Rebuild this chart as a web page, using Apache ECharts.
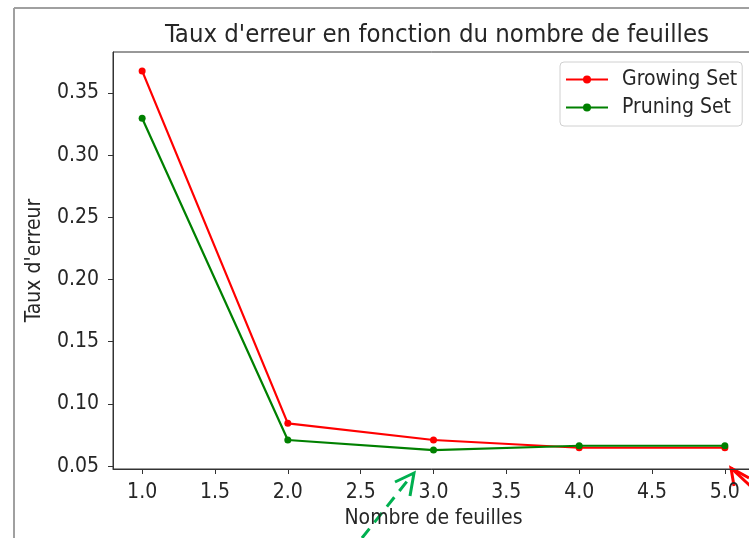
<!DOCTYPE html>
<html><head><meta charset="utf-8">
<script src="https://cdn.jsdelivr.net/npm/echarts@6/dist/echarts.min.js"></script>
<style>html,body{margin:0;padding:0;background:#fff}#c{width:749px;height:538px}</style>
</head><body><div id="c"></div>
<script>
const leaves = [1, 2, 3, 4, 5];
const growingSet = [0.3677, 0.0844, 0.0710, 0.0648, 0.0648];
const pruningSet = [0.3297, 0.0710, 0.0629, 0.0664, 0.0664];
const xTicks = [1.0, 1.5, 2.0, 2.5, 3.0, 3.5, 4.0, 4.5, 5.0];
const yTicks = [0.05, 0.10, 0.15, 0.20, 0.25, 0.30, 0.35];

const FONT = "'DejaVu Sans Condensed', 'DejaVu Sans', sans-serif";
const chart = echarts.init(document.getElementById('c'), null, {renderer: 'canvas'});
const pairs = arr => leaves.map((x, i) => [x, arr[i]]);
chart.setOption({
  animation: false,
  backgroundColor: '#fff',
  title: {
    text: "Taux d'erreur en fonction du nombre de feuilles",
    left: 432, top: 17, textAlign: 'center',
    textStyle: {fontFamily: FONT, fontSize: 25.5, fontWeight: 'normal', color: '#262626'}
  },
  grid: {left: 113, top: 52, width: 641, height: 417, show: true, outerBoundsMode: 'none',
         borderColor: '#333', borderWidth: 1, backgroundColor: 'transparent'},
  legend: {
    orient: 'vertical', left: 560, top: 62,
    backgroundColor: '#fff', borderColor: '#d0d0d0', borderWidth: 1, borderRadius: 4,
    padding: [7, 5, 8, 5], itemWidth: 42, itemHeight: 10, itemGap: 7,
    textStyle: {fontFamily: FONT, fontSize: 21, color: '#262626', padding: [0, 0, 0, 9]},
    data: ['Growing Set', 'Pruning Set']
  },
  xAxis: {
    type: 'value', min: 0.8, max: 5.2,
    name: 'Nombre de feuilles', nameLocation: 'middle', nameGap: 38,
    nameTextStyle: {fontFamily: FONT, fontSize: 21, color: '#262626'},
    axisLine: {show: true, onZero: false, lineStyle: {color: '#333', width: 1}},
    axisTick: {show: true, length: 5, customValues: xTicks, lineStyle: {color: '#333'}},
    axisLabel: {customValues: xTicks, margin: 13, fontFamily: FONT, fontSize: 21, color: '#262626',
                formatter: v => v.toFixed(1)},
    splitLine: {show: false}
  },
  yAxis: {
    type: 'value', min: 0.0477, max: 0.3829,
    name: "Taux d'erreur", nameLocation: 'middle', nameGap: 68, nameRotate: 90,
    nameTextStyle: {fontFamily: FONT, fontSize: 21, color: '#262626'},
    axisLine: {show: true, onZero: false, lineStyle: {color: '#333', width: 1}},
    axisTick: {show: true, length: 5, customValues: yTicks, lineStyle: {color: '#333'}},
    axisLabel: {customValues: yTicks, margin: 14, fontFamily: FONT, fontSize: 21, color: '#262626',
                formatter: v => v.toFixed(2)},
    splitLine: {show: false}
  },
  series: [
    {name: 'Growing Set', type: 'line', data: pairs(growingSet), color: '#ff0000',
     symbol: 'circle', symbolSize: 7, lineStyle: {width: 2.2}, itemStyle: {color: '#ff0000'}, z: 2},
    {name: 'Pruning Set', type: 'line', data: pairs(pruningSet), color: '#008000',
     symbol: 'circle', symbolSize: 7, lineStyle: {width: 2.2}, itemStyle: {color: '#008000'}, z: 3}
  ],
  graphic: [
    {type: 'line', shape: {x1: 14, y1: 8, x2: 14, y2: 538}, style: {stroke: '#a0a0a0', lineWidth: 2}},
    {type: 'line', shape: {x1: 14, y1: 8, x2: 749, y2: 8}, style: {stroke: '#a0a0a0', lineWidth: 2}},
    {type: 'line', shape: {x1: 362, y1: 538, x2: 412, y2: 475},
     style: {stroke: '#00b050', lineWidth: 3, lineDash: [12, 8]}},
    {type: 'polyline', shape: {points: [[395, 482], [414, 473], [410, 496]]},
     style: {stroke: '#00b050', lineWidth: 3, fill: null}},
    {type: 'polyline', shape: {points: [[734, 486], [731, 468], [749, 478]]},
     style: {stroke: '#ff0000', lineWidth: 3, fill: null}},
    {type: 'line', shape: {x1: 731, y1: 468, x2: 760, y2: 495}, style: {stroke: '#ff0000', lineWidth: 3}}
  ]
});
</script></body></html>
